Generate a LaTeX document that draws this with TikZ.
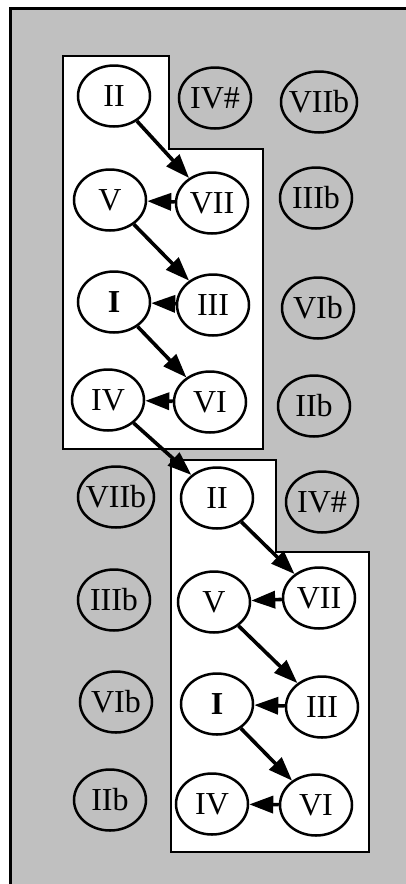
\documentclass[tikz,border=0pt]{standalone}
\usepackage{fontspec}
\setmainfont{Liberation Serif}
\usepackage{tikz}
\usetikzlibrary{arrows.meta, shapes.geometric}
\definecolor{bggray}{HTML}{C0C0C0}
\tikzset{
  note/.style={ellipse, draw=black, line width=2.5pt, minimum width=72pt, minimum height=61pt, inner sep=0pt, font=\fontsize{32}{32}\selectfont},
  chord/.style={note, fill=white},
  outside/.style={note},
  wide/.style={minimum width=76pt},
  move/.style={-{Triangle[length=24pt,width=17pt]}, line width=3.6pt},
  cluster/.style={draw=black, fill=white, line width=2.8pt}
}
\newcommand{\lbl}[1]{\makebox[0pt]{#1}}

\begin{document}
\begin{tikzpicture}[x=1pt, y=-1pt]
    \useasboundingbox (0,0) rectangle (406,884);

    % background
    \draw[fill=bggray, line width=2.5pt] (10.5,8.5) rectangle (420,900);

    % clusters
    \draw[cluster] (63,56) -- (169,56) -- (169,149) -- (263,149) -- (263,449) -- (63,449) -- cycle;
    \draw[cluster] (171,460) -- (276,460) -- (276,552) -- (369,552) -- (369,852) -- (171,852) -- cycle;

    % upper cycle
    \node[chord] (IIa)  at (114,96)  {\lbl{II}};
    \node[chord] (Va)   at (110,200) {\lbl{V}};
    \node[chord] (VIIa) at (212,203) {\lbl{VII}};
    \node[chord] (Ia)   at (114,302) {\lbl{\textbf{I}}};
    \node[chord] (IIIa) at (213,305) {\lbl{III}};
    \node[chord] (IVa)  at (108,400) {\lbl{IV}};
    \node[chord] (VIa)  at (210,402) {\lbl{VI}};

    \node[outside] (IVsa)  at (215,98)  {\lbl{IV\#}};
    \node[outside, wide] (VIIba) at (319,102) {\lbl{VIIb}};
    \node[outside] (IIIba) at (316,198) {\lbl{IIIb}};
    \node[outside] (VIba)  at (318,308) {\lbl{VIb}};
    \node[outside] (IIba)  at (314,406) {\lbl{IIb}};

    % lower cycle
    \node[chord] (IIb)  at (217,498) {\lbl{II}};
    \node[chord] (Vb)   at (214,602) {\lbl{V}};
    \node[chord] (VIIb) at (319,598) {\lbl{VII}};
    \node[chord] (Ib)   at (217,704) {\lbl{\textbf{I}}};
    \node[chord] (IIIb) at (322,707) {\lbl{III}};
    \node[chord] (IVb)  at (212,804) {\lbl{IV}};
    \node[chord] (VIb)  at (316,805) {\lbl{VI}};

    \node[outside, wide] (VIIbb) at (116,497) {\lbl{VIIb}};
    \node[outside] (IVsb)  at (322,502) {\lbl{IV\#}};
    \node[outside] (IIIbb) at (114,600) {\lbl{IIIb}};
    \node[outside] (VIbb)  at (116,702) {\lbl{VIb}};
    \node[outside] (IIbb)  at (110,800) {\lbl{IIb}};

    % moves
    \foreach \a/\b in {IIa/VIIa, VIIa/Va, Va/IIIa, IIIa/Ia, Ia/VIa, VIa/IVa, IVa/IIb,
                       IIb/VIIb, VIIb/Vb, Vb/IIIb, IIIb/Ib, Ib/VIb, VIb/IVb}{
        \draw[move] (\a) -- (\b);
    }

\end{tikzpicture}
\end{document}
